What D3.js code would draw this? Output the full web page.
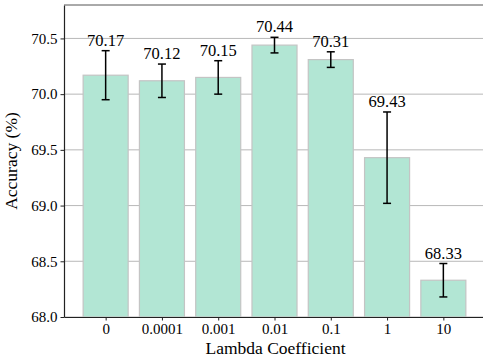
<!DOCTYPE html>
<html>
<head>
<meta charset="utf-8">
<script src="https://cdn.jsdelivr.net/npm/d3@7"></script>
<style>
  body { margin: 0; background: #fff; }
</style>
</head>
<body>
<svg id="chart"></svg>
<script>
const categories = ["0", "0.0001", "0.001", "0.01", "0.1", "1", "10"];
const accuracy = [70.17, 70.12, 70.15, 70.44, 70.31, 69.43, 68.33];
const errors = [0.22, 0.15, 0.15, 0.07, 0.07, 0.41, 0.15];
const yTicks = [68.0, 68.5, 69.0, 69.5, 70.0, 70.5];

const serif = "Liberation Serif";
const svgWidth = 483;
const svgHeight = 358;
const margin = { top: 5, right: -2, bottom: 41, left: 64 };
const width = svgWidth - margin.left - margin.right;
const height = svgHeight - margin.top - margin.bottom;

const svg = d3.select("#chart")
  .attr("width", svgWidth)
  .attr("height", svgHeight)
  .append("g")
  .attr("transform", `translate(${margin.left},${margin.top})`);

// matplotlib-like: bars of width 0.8 with 5% margin
const x = d3.scaleLinear()
  .domain([-0.74, categories.length - 1 + 0.74])
  .range([0, width]);

const y = d3.scaleLinear()
  .domain([68, 70.8])
  .range([height, 0]);

// grid
svg.append("g")
  .selectAll("line")
  .data(yTicks)
  .enter()
  .append("line")
  .attr("x1", 0)
  .attr("x2", width)
  .attr("y1", d => y(d))
  .attr("y2", d => y(d))
  .attr("stroke", "#b0b0b0")
  .attr("stroke-width", 0.9);

const bw = x(0.4) - x(-0.4);

svg.selectAll(".bar")
  .data(accuracy)
  .enter()
  .append("rect")
  .attr("class", "bar")
  .attr("x", (d, i) => x(i) - bw / 2)
  .attr("y", d => y(d))
  .attr("width", bw)
  .attr("height", d => height - y(d))
  .attr("fill", "#b2e6d4")
  .attr("stroke", "#c4c4c4")
  .attr("stroke-width", 1.2);

// error bars
const err = svg.append("g").attr("stroke", "#000").attr("stroke-width", 1.5);
accuracy.forEach((v, i) => {
  const cx = x(i);
  err.append("line")
    .attr("x1", cx).attr("x2", cx)
    .attr("y1", y(v - errors[i])).attr("y2", y(v + errors[i]));
  [v - errors[i], v + errors[i]].forEach(e => {
    err.append("line")
      .attr("x1", cx - 4).attr("x2", cx + 4)
      .attr("y1", y(e)).attr("y2", y(e));
  });
});

// value labels
svg.selectAll(".val")
  .data(accuracy)
  .enter()
  .append("text")
  .attr("class", "val")
  .attr("x", (d, i) => x(i))
  .attr("y", (d, i) => y(d + errors[i]) - 5)
  .attr("text-anchor", "middle")
  .attr("font-family", serif)
  .attr("font-size", 16.5)
  .attr("fill", "#000")
  .text(d => d.toFixed(2));

// axes
const xAxis = svg.append("g")
  .attr("transform", `translate(0,${height})`)
  .call(d3.axisBottom(x)
    .tickValues(d3.range(categories.length))
    .tickFormat(i => categories[i])
    .tickSize(3.5)
    .tickSizeOuter(0));

const yAxis = svg.append("g")
  .call(d3.axisLeft(y)
    .tickValues(yTicks)
    .tickFormat(d3.format(".1f"))
    .tickSize(3.5)
    .tickSizeOuter(0));

[xAxis, yAxis].forEach(a => {
  a.attr("font-family", serif).attr("font-size", 15);
  a.selectAll("text").attr("font-family", serif).attr("font-size", 15).attr("fill", "#000");
  a.select(".domain").attr("stroke", "#222").attr("stroke-width", 1.2);
  a.selectAll(".tick line").attr("stroke", "#222").attr("stroke-width", 1);
});

// top spine
svg.append("line")
  .attr("x1", 0).attr("x2", width)
  .attr("y1", 0).attr("y2", 0)
  .attr("stroke", "#555")
  .attr("stroke-width", 1);

svg.append("text")
  .attr("x", (x(0) + x(6)) / 2 + 1)
  .attr("y", height + 37)
  .attr("text-anchor", "middle")
  .attr("font-family", serif)
  .attr("font-size", 17.5)
  .text("Lambda Coefficient");

svg.append("text")
  .attr("transform", `translate(${-47},${height / 2}) rotate(-90)`)
  .attr("text-anchor", "middle")
  .attr("font-family", serif)
  .attr("font-size", 17.5)
  .text("Accuracy (%)");
</script>
</body>
</html>
